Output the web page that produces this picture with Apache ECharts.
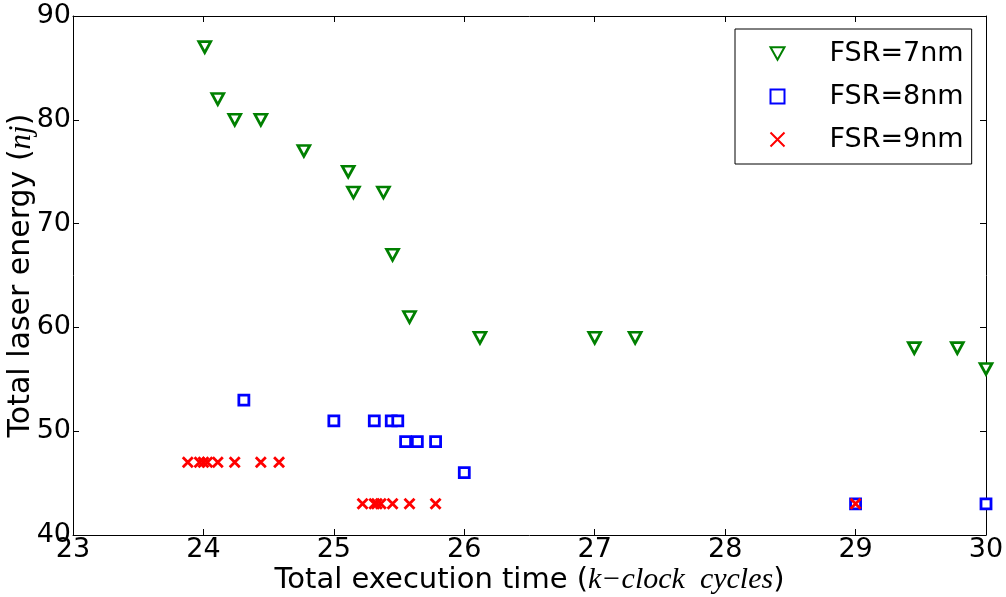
<!DOCTYPE html>
<html>
<head>
<meta charset="utf-8">
<script src="https://cdn.jsdelivr.net/npm/echarts@6/dist/echarts.min.js"></script>
<style>
  html, body { margin: 0; padding: 0; background: #fff; }
  #chart { width: 1006px; height: 597px; }
</style>
</head>
<body>
<div id="chart"></div>
<script>
// FSR=7nm
var fsr7X = [24.01, 24.11, 24.24, 24.44, 24.77, 25.11, 25.15, 25.38, 25.45, 25.58, 26.12, 27.0, 27.31, 29.45, 29.78, 30.0];
var fsr7Y = [87, 82, 80, 80, 77, 75, 73, 73, 67, 61, 59, 59, 59, 58, 58, 56];
// FSR=8nm
var fsr8X = [24.31, 25.0, 25.31, 25.44, 25.49, 25.55, 25.64, 25.78, 26.0, 29.0, 30.0];
var fsr8Y = [53, 51, 51, 51, 51, 49, 49, 49, 46, 43, 43];
// FSR=9nm
var fsr9X = [23.88, 23.97, 24.0, 24.03, 24.11, 24.24, 24.44, 24.58, 25.22, 25.31, 25.33, 25.36, 25.45, 25.58, 25.78, 29.0];
var fsr9Y = [47, 47, 47, 47, 47, 47, 47, 47, 43, 43, 43, 43, 43, 43, 43, 43];

var seriesNames = ['FSR=7nm', 'FSR=8nm', 'FSR=9nm'];

function pairs(xs, ys) {
  var out = [];
  for (var i = 0; i < xs.length; i++) out.push([xs[i], ys[i]]);
  return out;
}

var font = 'DejaVu Sans';
var mathFont = 'Liberation Serif';

var myChart = echarts.init(document.getElementById('chart'));
var option = {
  animation: false,
  backgroundColor: '#fff',
  grid: { left: 73, right: 20, top: 16, bottom: 62, containLabel: false, outerBoundsMode: 'none' },
  legend: {
    data: seriesNames,
    orient: 'vertical',
    left: 735,
    top: 29,
    padding: [11, 8, 11, 33],
    itemGap: 16,
    itemWidth: 14,
    itemHeight: 14,
    backgroundColor: '#fff',
    borderColor: '#000',
    borderWidth: 1,
    borderRadius: 0,
    textStyle: { fontFamily: font, fontSize: 27, color: '#000', padding: [0, 0, 0, 40] }
  },
  xAxis: [{
    type: 'value', min: 23, max: 30, interval: 1,
    name: 'Total execution time ({m|k−clock  cycles})',
    nameLocation: 'middle', nameGap: 30, nameMoveOverlap: false,
    nameTextStyle: {
      fontFamily: font, fontSize: 29, color: '#000',
      rich: { m: { fontFamily: mathFont, fontStyle: 'italic', fontSize: 30, color: '#000' } }
    },
    axisLine: { show: true, lineStyle: { color: '#000', width: 1 } },
    axisTick: { inside: true, length: 6, lineStyle: { color: '#000' } },
    axisLabel: { fontFamily: font, fontSize: 27, color: '#000', margin: 1 },
    splitLine: { show: false }
  }, {
    type: 'value', min: 23, max: 30, interval: 1, position: 'top',
    axisLine: { show: true, lineStyle: { color: '#000', width: 1 } },
    axisTick: { inside: true, length: 6, lineStyle: { color: '#000' } },
    axisLabel: { show: false },
    splitLine: { show: false }
  }],
  yAxis: [{
    type: 'value', min: 40, max: 90, interval: 10,
    name: 'Total laser energy ({m|nj})',
    nameLocation: 'middle', nameGap: 36, nameRotate: 90, nameMoveOverlap: false,
    nameTextStyle: {
      fontFamily: font, fontSize: 30, color: '#000',
      rich: { m: { fontFamily: mathFont, fontStyle: 'italic', fontSize: 31, color: '#000' } }
    },
    axisLine: { show: true, lineStyle: { color: '#000', width: 1 } },
    axisTick: { inside: true, length: 6, lineStyle: { color: '#000' } },
    axisLabel: { fontFamily: font, fontSize: 27, color: '#000', margin: 2 },
    splitLine: { show: false }
  }, {
    type: 'value', min: 40, max: 90, interval: 10, position: 'right',
    axisLine: { show: true, lineStyle: { color: '#000', width: 1 } },
    axisTick: { inside: true, length: 6, lineStyle: { color: '#000' } },
    axisLabel: { show: false },
    splitLine: { show: false }
  }],
  series: [{
    name: seriesNames[0],
    type: 'scatter',
    symbol: 'path://M0,0L10,0L5,9Z',
    symbolSize: [12, 11],
    itemStyle: { color: '#fff', borderColor: '#008000', borderWidth: 2.7, opacity: 1 },
    data: pairs(fsr7X, fsr7Y),
    z: 3
  }, {
    name: seriesNames[1],
    type: 'scatter',
    symbol: 'rect',
    symbolSize: 10,
    itemStyle: { color: '#fff', borderColor: '#0000ff', borderWidth: 2.8, opacity: 1 },
    data: pairs(fsr8X, fsr8Y),
    z: 4
  }, {
    name: seriesNames[2],
    type: 'scatter',
    symbol: 'path://M0,0L10,10M10,0L0,10',
    symbolSize: 10,
    itemStyle: { color: 'none', borderColor: '#ff0000', borderWidth: 2.8, opacity: 1 },
    data: pairs(fsr9X, fsr9Y),
    z: 5
  }]
};
myChart.setOption(option);
</script>
</body>
</html>
